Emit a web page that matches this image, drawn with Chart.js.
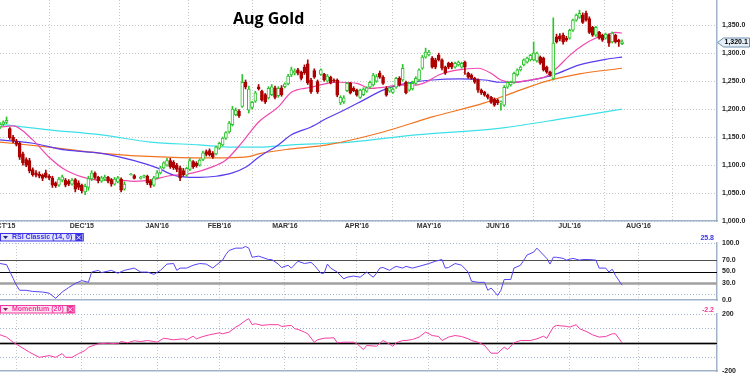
<!DOCTYPE html>
<html lang="en">
<head>
<meta charset="UTF-8">
<title>Aug Gold</title>
<style>
  body { margin: 0; background: #fff; }
  #wrap { position: relative; width: 750px; height: 375px; overflow: hidden; }
  canvas { position: absolute; left: 0; }
</style>
</head>
<body>
<div id="wrap">
  <canvas id="priceChart" width="750" height="232" style="top:0"></canvas>
  <canvas id="rsiChart" width="750" height="70" style="top:232px"></canvas>
  <canvas id="momChart" width="750" height="73" style="top:302px"></canvas>
</div>

<script src="https://cdn.jsdelivr.net/npm/chart.js"></script>
<script>
// daily candles, index = trading day (null = no session)
const opens = [1168,1173,1176,1165,1150,1143,1139,1120,1110,1108,1092,1086,1084,1082,1086,1080,1077,1068,1064,1073,
  1073,1071,1066,1074,1068,1064,1052,1060,1075,1085,1078,1071,1075,1078,1074,1066,1070,1075,1057,null,
  1083,1081,null,1076,1079,1080,1072,1064,1077,1086,1095,1100,1108,1105,1100,1095,1090,1082,1092,1106,
  1103,1100,1110,1124,1126,1121,1120,1130,1136,1148,1159,1172,1190,1196,1205,1248,1198,1203,1214,1240,
  1232,1226,1220,1226,1238,1224,1238,1240,1245,1261,1264,1270,1266,1275,1281,1252,1269,1249,1262,1262,
  1250,1257,1252,1252,1211,1213,1233,1246,1237,1234,1221,1226,1232,1239,1243,1250,1264,1257,1237,1232,
  1230,1239,1255,1252,1248,1234,1236,1246,1252,1273,1293,1297,1291,1288,1296,1288,1275,1282,1282,1275,
  1279,1275,1284,1264,1261,1255,1252,1234,1230,1225,1221,1218,1216,1211,1207,1239,1243,1248,1261,1270,
  1279,1284,1288,1288,1286,1293,1291,1275,1266,1255,1329,1331,1332,1327,1327,1341,1359,1364,1368,1371,
  1362,1346,1332,1337,1332,1327,1332,1320,1332,1323,1317];
const highs = [1176,1179,1186,1167,1153,1146,1141,1123,1113,1112,1095,1090,1088,1084,1091,1083,1080,1070,1078,1082,
  1076,1074,1076,1076,1072,1066,1066,1080,1090,1088,1080,1080,1082,1080,1076,1078,1080,1077,1070,null,
  1085,1083,null,1080,1082,1082,1074,1080,1090,1098,1106,1112,1112,1108,1103,1098,1094,1096,1112,1108,
  1106,1111,1125,1127,1129,1124,1134,1141,1150,1160,1178,1205,1202,1199,1262,1252,1241,1214,1232,1244,
  1234,1228,1240,1244,1241,1240,1242,1247,1262,1275,1272,1273,1268,1279,1288,1255,1272,1252,1272,1264,
  1262,1259,1254,1254,1224,1224,1248,1248,1240,1236,1236,1238,1240,1250,1264,1262,1268,1260,1240,1240,
  1238,1257,1258,1280,1250,1248,1250,1258,1272,1296,1309,1305,1294,1291,1300,1290,1277,1284,1284,1284,
  1286,1284,1286,1266,1263,1257,1254,1236,1232,1227,1223,1220,1218,1215,1242,1250,1250,1266,1272,1277,
  1290,1293,1298,1320,1302,1295,1293,1277,1268,1363,1334,1335,1336,1330,1343,1361,1370,1377,1372,1375,
  1365,1348,1348,1339,1334,1336,1334,1338,1334,1325,1324];
const lows = [1165,1170,1174,1146,1140,1134,1110,1100,1097,1086,1080,1079,1077,1072,1077,1074,1060,1060,1062,1070,
  1061,1063,1064,1052,1056,1050,1047,1055,1072,1075,1068,1069,1072,1068,1062,1064,1068,1052,1055,null,
  1082,1075,null,1075,1077,1065,1060,1062,1075,1084,1093,1098,1094,1092,1088,1072,1080,1080,1090,1094,
  1096,1098,1108,1116,1116,1112,1118,1128,1134,1146,1157,1170,1188,1185,1203,1236,1193,1200,1212,1234,
  1214,1210,1218,1224,1218,1221,1223,1238,1243,1258,1261,1261,1252,1262,1244,1228,1255,1228,1260,1250,
  1248,1245,1248,1222,1208,1210,1231,1227,1231,1223,1219,1224,1230,1237,1241,1248,1255,1244,1223,1230,
  1228,1237,1241,1250,1227,1232,1234,1244,1250,1271,1291,1295,1273,1272,1286,1270,1262,1272,1272,1273,
  1277,1273,1262,1255,1253,1246,1230,1226,1223,1218,1210,1205,1208,1198,1205,1237,1241,1246,1259,1268,
  1277,1282,1286,1286,1284,1280,1268,1264,1259,1252,1318,1322,1316,1321,1325,1339,1357,1362,1353,1357,
  1335,1330,1330,1325,1321,1325,1312,1318,1318,1312,1315];
const closes = [1173,1177,1180,1149,1143,1137,1114,1104,1100,1090,1083,1082,1080,1076,1079,1077,1064,1063,1075,1079,
  1064,1066,1073,1057,1060,1054,1062,1076,1086,1078,1072,1077,1078,1071,1066,1075,1077,1055,1066,null,
  1084,1076,null,1078,1081,1068,1064,1077,1086,1095,1104,1108,1097,1095,1092,1077,1083,1094,1108,1097,
  1099,1109,1122,1119,1118,1115,1132,1139,1148,1158,1175,1200,1198,1188,1248,1239,1236,1212,1229,1236,
  1216,1213,1237,1240,1221,1237,1226,1245,1259,1270,1268,1264,1255,1265,1247,1231,1257,1231,1270,1252,
  1259,1247,1250,1225,1221,1220,1246,1229,1233,1225,1234,1236,1238,1248,1261,1258,1257,1246,1225,1238,
  1236,1255,1243,1273,1229,1246,1246,1255,1270,1293,1302,1302,1275,1275,1288,1273,1264,1275,1275,1282,
  1284,1282,1275,1257,1255,1248,1234,1229,1225,1221,1212,1207,1211,1213,1239,1248,1248,1264,1270,1275,
  1288,1291,1296,1300,1300,1282,1270,1266,1261,1318,1320,1325,1320,1323,1341,1359,1368,1371,1355,1359,
  1337,1332,1346,1327,1323,1334,1318,1336,1320,1320,1320.1];

// moving averages: [day, value]
const ma20 = [[0,1168],[4,1170],[10,1145],[15,1114],[20,1091],[25,1079],[31,1073],[36,1073],[41,1071],[46,1073],
  [51,1080],[59,1086],[64,1095],[69,1109],[74,1141],[79,1177],[85,1204],[89,1230],[95,1239],[100,1246],[103,1248],
  [109,1246],[113,1237],[117,1239],[122,1243],[127,1243],[130,1248],[134,1261],[140,1270],[146,1273],[150,1264],
  [153,1252],[157,1248],[162,1252],[167,1259],[170,1273],[174,1296],[178,1314],[182,1327],[185,1332],[188,1337],[190,1336]];
const ma50 = [[0,1145],[10,1139],[20,1127],[31,1121],[41,1108],[48,1095],[53,1082],[56,1079],[61,1078],[66,1080],
  [71,1086],[75,1096],[79,1114],[85,1136],[89,1154],[95,1168],[100,1184],[105,1198],[111,1216],[117,1234],[124,1246],
  [132,1252],[140,1254],[148,1252],[153,1248],[157,1248],[165,1255],[169,1261],[177,1279],[185,1289],[190,1293]];
const ma100 = [[0,1141],[15,1132],[31,1121],[51,1114],[59,1113],[69,1113],[76,1115],[79,1120],[89,1129],[100,1136],
  [117,1159],[132,1186],[148,1211],[157,1230],[167,1250],[177,1263],[190,1273]];
const ma200 = [[0,1173],[15,1163],[31,1154],[46,1141],[61,1136],[71,1132],[79,1132],[89,1136],[100,1139],[107,1141],
  [127,1154],[153,1166],[173,1184],[190,1200]];

// RSI (14) and Momentum (20): [day, value]
const rsi = [[0,64],[2,62],[4,38],[5,26],[6,17],[8,17],[10,15],[13,14],[15,12],[17,3],[19,14],[21,22],[23,29],[25,34],
  [27,31],[28,49],[30,52],[31,48],[34,52],[36,47],[38,52],[41,56],[43,49],[45,49],[47,45],[49,52],[51,63],[53,64],
  [54,52],[55,56],[57,56],[59,61],[61,64],[63,63],[65,56],[66,61],[68,70],[69,80],[70,87],[72,91],[74,91],[75,94],
  [76,91],[77,75],[79,77],[82,71],[83,71],[85,63],[86,57],[88,61],[89,56],[91,68],[93,64],[95,66],[96,61],[98,47],
  [99,47],[100,63],[101,56],[103,49],[105,37],[106,40],[108,42],[110,40],[112,49],[114,40],[115,47],[116,56],[117,57],
  [119,52],[120,56],[121,59],[123,56],[124,59],[126,56],[128,59],[131,64],[133,68],[135,71],[136,56],[137,57],[139,64],
  [141,61],[143,49],[144,33],[146,31],[148,31],[149,17],[150,21],[152,8],[153,17],[154,36],[156,36],[157,56],[159,61],
  [161,79],[163,84],[164,91],[166,79],[167,73],[168,63],[169,75],[170,75],[172,73],[173,70],[175,73],[177,70],[178,71],
  [180,71],[182,70],[183,56],[185,56],[186,49],[187,54],[188,43],[190,26]];
const momentum = [[0,54],[2,38],[4,2],[6,-26],[9,-68],[12,-104],[15,-92],[17,-104],[19,-78],[20,-104],[22,-104],[24,-78],
  [26,-56],[27,-33],[30,-9],[33,-5],[36,-9],[37,7],[39,-2],[41,12],[43,7],[45,14],[47,7],[48,2],[50,30],[53,19],[56,26],
  [57,19],[59,44],[60,26],[62,42],[64,54],[67,68],[68,61],[70,73],[72,108],[73,120],[75,155],[76,167],[77,125],[78,132],
  [80,120],[82,125],[85,125],[86,113],[89,120],[90,97],[91,92],[93,73],[94,61],[96,2],[97,19],[99,30],[102,33],[103,-2],
  [105,2],[108,2],[109,-9],[111,-49],[112,-21],[115,-26],[117,14],[118,2],[120,-26],[121,-2],[123,14],[124,14],[126,21],
  [128,38],[130,73],[132,49],[134,42],[135,14],[137,38],[139,49],[141,42],[143,26],[144,14],[146,2],[148,-21],[150,-75],
  [152,-75],[154,-33],[155,-49],[157,-2],[159,14],[162,14],[164,26],[166,44],[167,30],[169,108],[170,120],[173,113],
  [174,108],[176,125],[177,97],[179,78],[181,54],[183,38],[185,42],[187,61],[188,61],[190,-2]];

// axes
const monthGrid = [5, 25, 48, 67, 87, 109, 131, 152, 174, 195];
const monthLabels = ["OCT'15", "DEC'15", "JAN'16", "FEB'16", "MAR'16", "APR'16", "MAY'16", "JUN'16", "JUL'16", "AUG'16"];
const labelDays = [1, 25, 48, 67, 87, 109, 131, 152, 174, 195];
const priceTicks = [1000, 1050, 1100, 1150, 1200, 1250, 1300, 1350];
const rsiTicks = [0, 30, 50, 70, 100];
const momTicks = [-200, 200];
const chartTitle = 'Aug Gold';

const X_MAX = 219;
const fmt = v => v.toLocaleString('en-US', {minimumFractionDigits: 1, maximumFractionDigits: 1});
const pts = arr => arr.map(([x, y]) => ({x, y}));
const axisFont = {family: 'Liberation Sans', size: 7, weight: 'bold'};
const GREEN = '#2ec42e', RED = '#a80000', EDGE = '#9fb4cc';

// candle bars
const bodies = [], wicks = [], bodyFill = [], bodyLine = [], wickCol = [];
closes.forEach((c, i) => {
  if (c == null) return;
  const up = c >= opens[i];
  bodies.push({x: i, y: [opens[i], c]});
  wicks.push({x: i, y: [lows[i], highs[i]]});
  bodyFill.push(up ? '#ffffff' : '#b40000');
  bodyLine.push(up ? GREEN : RED);
  wickCol.push(up ? GREEN : RED);
});

function xScale(h) {
  return {
    type: 'linear', min: 0, max: X_MAX, offset: false,
    afterBuildTicks: s => { s.ticks = monthGrid.map(v => ({value: v})); },
    afterFit: s => { s.height = h; s.paddingLeft = 0; s.paddingRight = 0; },
    ticks: {display: false},
    grid: {color: '#c8c8c8', drawTicks: false},
    border: {display: true, color: EDGE, width: 1.5, dash: [1, 2]}
  };
}
function yScale(min, max, ticks, cb, gridOn) {
  return {
    position: 'right', min: min, max: max,
    afterBuildTicks: s => { s.ticks = ticks.map(v => ({value: v})); },
    afterFit: s => { s.width = 33; s.paddingTop = 0; s.paddingBottom = 0; },
    ticks: {font: axisFont, color: '#222', padding: 5, callback: cb},
    grid: {display: gridOn, color: '#c8c8c8', drawTicks: false},
    border: {display: true, color: EDGE, width: 1.5, dash: [1, 2]}
  };
}

const priceDecor = {
  id: 'priceDecor',
  afterDraw(chart) {
    const {ctx, chartArea, scales: {x, y}} = chart;
    ctx.save();
    ctx.font = 'bold 16px "Open Sans"';
    ctx.fillStyle = '#000';
    ctx.textAlign = 'left';
    ctx.textBaseline = 'alphabetic';
    ctx.fillText(chartTitle, 233, 24);

    ctx.font = 'bold 7px "Liberation Sans"';
    ctx.fillStyle = '#333';
    ctx.textAlign = 'center';
    ctx.textBaseline = 'middle';
    monthLabels.forEach((t, k) => ctx.fillText(t, x.getPixelForValue(labelDays[k]), chartArea.bottom + 5));

    // last price tag
    const last = closes[closes.length - 1];
    const py = Math.round(y.getPixelForValue(last)) + 0.5;
    const bx = chartArea.right + 0.5;
    ctx.beginPath();
    ctx.moveTo(bx, py);
    ctx.lineTo(bx + 6, py - 4.5);
    ctx.lineTo(749.5, py - 4.5);
    ctx.lineTo(749.5, py + 4.5);
    ctx.lineTo(bx + 6, py + 4.5);
    ctx.closePath();
    ctx.fillStyle = '#e6eef8';
    ctx.fill();
    ctx.strokeStyle = '#6f8fb0';
    ctx.lineWidth = 1;
    ctx.stroke();
    ctx.fillStyle = '#000';
    ctx.textAlign = 'left';
    ctx.fillText(fmt(last), bx + 7, py);
    ctx.restore();
  }
};

const panelDecor = {
  id: 'panelDecor',
  beforeDatasetsDraw(chart, args, o) {
    const {ctx, chartArea: {left, right}, scales: {y}} = chart;
    ctx.save();
    ctx.setLineDash([1, 2]);
    ctx.strokeStyle = EDGE;
    ctx.lineWidth = 1;
    o.dotted.forEach(v => {
      const py = Math.round(y.getPixelForValue(v)) + 0.5;
      ctx.beginPath(); ctx.moveTo(left, py); ctx.lineTo(right, py); ctx.stroke();
    });
    ctx.setLineDash([]);
    o.lines.forEach(l => {
      const py = Math.round(y.getPixelForValue(l.v)) + 0.5;
      ctx.strokeStyle = l.color;
      ctx.lineWidth = l.w;
      ctx.beginPath(); ctx.moveTo(left, py); ctx.lineTo(right, py); ctx.stroke();
    });
    ctx.restore();
  },
  afterDraw(chart, args, o) {
    const {ctx, chartArea: {right}} = chart;
    const top = o.headerY;
    ctx.save();
    ctx.font = 'bold 7px "Liberation Sans"';
    const tw = ctx.measureText(o.title).width;
    const boxR = 12 + tw + 11;
    ctx.fillStyle = o.bg;
    ctx.fillRect(0, top, boxR, 8);
    ctx.strokeStyle = o.color;
    ctx.lineWidth = 1;
    ctx.strokeRect(0.5, top + 0.5, boxR - 0.5, 7.5);
    // triangle
    ctx.fillStyle = o.dark;
    ctx.beginPath();
    ctx.moveTo(3, top + 3); ctx.lineTo(8, top + 3); ctx.lineTo(5.5, top + 6); ctx.closePath();
    ctx.fill();
    ctx.fillStyle = o.color;
    ctx.textBaseline = 'middle';
    ctx.textAlign = 'left';
    ctx.fillText(o.title, 12, top + 4.5);
    // close box
    const cx = boxR - 8;
    ctx.fillStyle = o.color;
    ctx.fillRect(cx, top + 1, 7, 7);
    ctx.strokeStyle = '#fff';
    ctx.beginPath();
    ctx.moveTo(cx + 1.5, top + 2.5); ctx.lineTo(cx + 5.5, top + 6.5);
    ctx.moveTo(cx + 5.5, top + 2.5); ctx.lineTo(cx + 1.5, top + 6.5);
    ctx.stroke();
    // current value
    ctx.fillStyle = o.color;
    ctx.textAlign = 'right';
    ctx.fillText(o.value, right - 3, top + 5);
    ctx.restore();
  }
};

const base = {
  responsive: false, animation: false, devicePixelRatio: 1,
};

new Chart(document.getElementById('priceChart'), {
  type: 'bar',
  data: {
    datasets: [
      {type: 'line', data: pts(ma200), borderColor: '#3ee0e8', borderWidth: 1.2, pointRadius: 0, cubicInterpolationMode: 'monotone', order: 6},
      {type: 'line', data: pts(ma100), borderColor: '#f27420', borderWidth: 1.2, pointRadius: 0, cubicInterpolationMode: 'monotone', order: 5},
      {type: 'line', data: pts(ma50), borderColor: '#5a3cf0', borderWidth: 1.2, pointRadius: 0, cubicInterpolationMode: 'monotone', order: 4},
      {type: 'line', data: pts(ma20), borderColor: '#f048b0', borderWidth: 1.2, pointRadius: 0, cubicInterpolationMode: 'monotone', order: 3},
      {type: 'bar', data: wicks, backgroundColor: wickCol, barThickness: 1, grouped: false, order: 2},
      {type: 'bar', data: bodies, backgroundColor: bodyFill, borderColor: bodyLine, borderWidth: 1,
        borderSkipped: false, barThickness: 3, grouped: false, order: 1}
    ]
  },
  options: Object.assign({}, base, {
    layout: {padding: 0},
    plugins: {legend: {display: false}, tooltip: {enabled: false}},
    scales: {
      x: xScale(11),
      y: yScale(1000, 1395, priceTicks, v => fmt(v), true)
    }
  }),
  plugins: [priceDecor]
});

new Chart(document.getElementById('rsiChart'), {
  type: 'line',
  data: {datasets: [{data: pts(rsi), borderColor: '#5444f4', borderWidth: 1, pointRadius: 0, tension: 0}]},
  options: Object.assign({}, base, {
    layout: {padding: {top: 11, bottom: 2}},
    plugins: {
      legend: {display: false}, tooltip: {enabled: false},
      panelDecor: {title: 'RSI Classic (14, 0)', color: '#3a34e6', dark: '#1c1c8c', bg: '#e4e4ff', value: '25.8', headerY: 1,
        dotted: [100, 11],
        lines: [{v: 30, color: '#a0a0a0', w: 2.5}, {v: 70, color: '#505050', w: 1}, {v: 50, color: '#000', w: 1}]}
    },
    scales: {
      x: xScale(0),
      y: yScale(0, 100, rsiTicks, v => fmt(v), false)
    }
  }),
  plugins: [panelDecor]
});

new Chart(document.getElementById('momChart'), {
  type: 'line',
  data: {datasets: [{data: pts(momentum), borderColor: '#f43ca4', borderWidth: 1, pointRadius: 0, tension: 0}]},
  options: Object.assign({}, base, {
    layout: {padding: {top: 12, bottom: 4}},
    plugins: {
      legend: {display: false}, tooltip: {enabled: false},
      panelDecor: {title: 'Momentum (20)', color: '#f0389c', dark: '#8c1c5c', bg: '#ffe4f2', value: '-2.2', headerY: 3,
        dotted: [200, 100, -100],
        lines: [{v: 0, color: '#a8a8a8', w: 3}, {v: 0, color: '#000', w: 1}]}
    },
    scales: {
      x: xScale(0),
      y: yScale(-200, 200, momTicks, v => String(v), false)
    }
  }),
  plugins: [panelDecor]
});
</script>
</body>
</html>
